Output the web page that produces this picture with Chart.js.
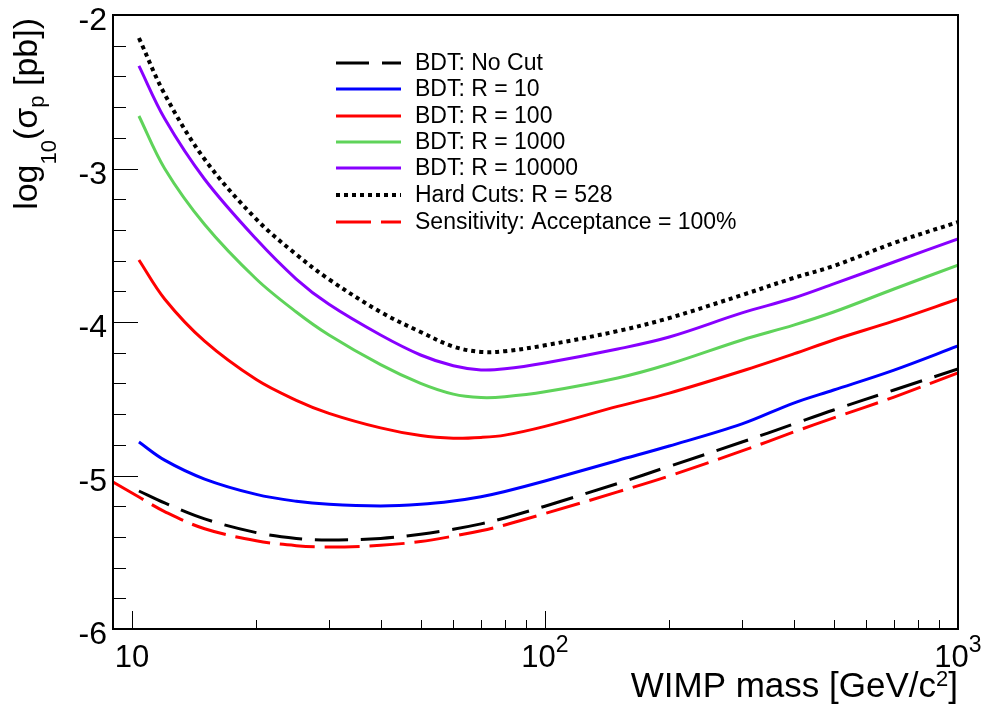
<!DOCTYPE html>
<html><head><meta charset="utf-8">
<script src="https://cdn.jsdelivr.net/npm/chart.js@4.4.0/dist/chart.umd.min.js"></script>
<style>html,body{margin:0;padding:0;background:#fff;}canvas{display:block;}</style>
</head><body>
<canvas id="c" width="987" height="704"></canvas>
<script>
// WIMP mass [GeV/c^2]
const masses = [9, 10.4, 12, 15, 20, 25, 30, 40, 50, 60, 70, 80, 100, 150, 200, 300, 400, 500, 700, 1000];
// log10(sigma_p [pb])
const bdtNoCut   = [null, -5.101, -5.179, -5.283, -5.372, -5.410, -5.420, -5.410, -5.382, -5.350, -5.315, -5.277, -5.200, -5.052, -4.940, -4.782, -4.664, -4.573, -4.443, -4.306];
const bdtR10     = [null, -4.782, -4.900, -5.023, -5.123, -5.168, -5.188, -5.198, -5.188, -5.166, -5.138, -5.104, -5.036, -4.902, -4.808, -4.664, -4.528, -4.443, -4.313, -4.156];
const bdtR100    = [null, -3.596, -3.850, -4.125, -4.375, -4.510, -4.595, -4.690, -4.740, -4.757, -4.752, -4.737, -4.680, -4.550, -4.463, -4.319, -4.208, -4.117, -3.993, -3.850];
const bdtR1000   = [null, -2.658, -3.000, -3.365, -3.720, -3.935, -4.085, -4.278, -4.400, -4.470, -4.492, -4.487, -4.455, -4.365, -4.274, -4.117, -4.020, -3.935, -3.785, -3.629];
const bdtR10000  = [null, -2.332, -2.675, -3.070, -3.460, -3.720, -3.885, -4.085, -4.215, -4.285, -4.312, -4.305, -4.267, -4.176, -4.098, -3.941, -3.844, -3.752, -3.609, -3.459];
const hardCuts   = [null, -2.150, -2.515, -2.940, -3.330, -3.560, -3.722, -3.935, -4.065, -4.160, -4.195, -4.190, -4.152, -4.059, -3.974, -3.824, -3.713, -3.635, -3.485, -3.349];
const sensitivity= [-5.042, -5.140, -5.235, -5.347, -5.425, -5.457, -5.466, -5.455, -5.430, -5.395, -5.360, -5.322, -5.248, -5.107, -5.003, -4.840, -4.717, -4.625, -4.489, -4.332];

const seriesLabels = ['BDT: No Cut', 'BDT: R = 10', 'BDT: R = 100', 'BDT: R = 1000', 'BDT: R = 10000', 'Hard Cuts: R = 528', 'Sensitivity: Acceptance = 100%'];
const yTickValues = [-6, -5, -4, -3, -2];
const yTickLabels = ['-6', '-5', '-4', '-3', '-2'];
const xTickValues = [10, 100, 1000];
const xTickBase = ['10', '10', '10'];
const xTickExp = ['', '2', '3'];

function pts(vals){ const out=[]; vals.forEach((v,i)=>{ if(v!==null) out.push({x:masses[i], y:v}); }); return out; }

const styles = [
  {c:'#000000', w:3, d:[33,13]},
  {c:'#0000ff', w:3, d:[]},
  {c:'#ff0000', w:3, d:[]},
  {c:'#5fd35a', w:3, d:[]},
  {c:'#8800ff', w:3, d:[]},
  {c:'#000000', w:4, d:[4,4]},
  {c:'#ff0000', w:3, d:[35,10]}
];
const allSeries = [bdtNoCut, bdtR10, bdtR100, bdtR1000, bdtR10000, hardCuts, sensitivity];
const datasets = allSeries.map((s,i)=>({
  label: seriesLabels[i], data: pts(s), borderColor: styles[i].c, backgroundColor: styles[i].c,
  borderWidth: styles[i].w, borderDash: styles[i].d, pointRadius: 0, fill: false,
  tension: 0.35, borderCapStyle: 'butt'
}));

const FONT = '"Liberation Sans", Arial, Helvetica, sans-serif';
function richWidth(ctx, segs){ let w=0; for(const s of segs){ ctx.font = s.s+'px '+FONT; w+=ctx.measureText(s.t).width; } return w; }
function drawRich(ctx, segs, x, y){ let cx=x; for(const s of segs){ ctx.font = s.s+'px '+FONT; ctx.fillText(s.t, cx, y+(s.dy||0)); cx+=ctx.measureText(s.t).width; } }

const rootPlugin = {
  id: 'rootStyle',
  beforeDraw(chart){ const ctx=chart.ctx; ctx.save(); ctx.fillStyle='#fff'; ctx.fillRect(0,0,chart.width,chart.height); ctx.restore(); },
  afterDatasetsDraw(chart){
    const {ctx, chartArea:a, scales:{x, y}} = chart;
    ctx.save();
    ctx.strokeStyle = '#000'; ctx.fillStyle = '#000'; ctx.lineWidth = 1;
    ctx.beginPath();
    for (let k = 0; k <= 20; k++) {
      const v = -6 + k*0.2; const py = Math.round(y.getPixelForValue(v)) + 0.5;
      const major = (k % 5 === 0);
      ctx.moveTo(a.left, py); ctx.lineTo(a.left + (major ? 25 : 13), py);
    }
    for (const d of [1, 10, 100]) {
      for (let k = 1; k <= 10; k++) {
        const m = k*d; if (m < 9 || m > 1000) continue;
        const px = Math.round(x.getPixelForValue(m)) + 0.5;
        const major = (k === 1 || k === 10);
        ctx.moveTo(px, a.bottom); ctx.lineTo(px, a.bottom - (major ? 18 : 9));
      }
    }
    ctx.stroke();
    ctx.lineWidth = 2;
    ctx.strokeRect(a.left, a.top, a.right - a.left, a.bottom - a.top);

    // y tick labels
    ctx.textAlign = 'right'; ctx.textBaseline = 'alphabetic';
    ctx.font = '32px ' + FONT;
    yTickValues.forEach((v,i)=>{ const py = y.getPixelForValue(v); ctx.fillText(yTickLabels[i], a.left - 6, py + 15); });
    // x tick labels
    ctx.textAlign = 'left';
    xTickValues.forEach((v,i)=>{
      const segs = [{t:xTickBase[i], s:31, dy:0}];
      if (xTickExp[i]) segs.push({t:xTickExp[i], s:23, dy:-15});
      const w = richWidth(ctx, segs);
      drawRich(ctx, segs, x.getPixelForValue(v) - w/2, a.bottom + 38);
    });
    // x title
    const xt = [{t:'WIMP mass [GeV/c', s:35, dy:0}, {t:'2', s:22, dy:-11}, {t:']', s:35, dy:0}];
    const xw = richWidth(ctx, xt);
    drawRich(ctx, xt, a.right - xw, 697);
    // y title
    const yt = [{t:'log', s:34, dy:0}, {t:'10', s:22, dy:19}, {t:'(σ', s:34, dy:0}, {t:'p', s:22, dy:7}, {t:' [pb])', s:34, dy:0}];
    const yw = richWidth(ctx, yt);
    ctx.save(); ctx.translate(37, 18); ctx.rotate(-Math.PI/2);
    drawRich(ctx, yt, -yw, 0);
    ctx.restore();

    // legend
    const rows = [63, 89, 116, 142, 168, 195, 222];
    ctx.font = '23px ' + FONT; ctx.textAlign = 'left'; ctx.textBaseline = 'middle';
    chart.data.datasets.forEach((ds,i)=>{
      const ry = rows[i];
      ctx.save();
      ctx.strokeStyle = ds.borderColor; ctx.lineWidth = ds.borderWidth; ctx.setLineDash(ds.borderDash || []);
      ctx.beginPath(); ctx.moveTo(336, ry); ctx.lineTo(401, ry); ctx.stroke();
      ctx.restore();
      ctx.fillStyle = '#000';
      ctx.fillText(ds.label, 415, ry + 1);
    });
    ctx.restore();
  }
};

new Chart(document.getElementById('c'), {
  type: 'line',
  data: { datasets },
  options: {
    responsive: false, animation: false, devicePixelRatio: 1,
    layout: { padding: { left: 113, top: 15, right: 29, bottom: 75 } },
    plugins: { legend: { display: false }, tooltip: { enabled: false } },
    scales: {
      x: { type: 'logarithmic', min: 9, max: 1000, display: false },
      y: { type: 'linear', min: -6, max: -2, display: false }
    }
  },
  plugins: [rootPlugin]
});
</script>
</body></html>
